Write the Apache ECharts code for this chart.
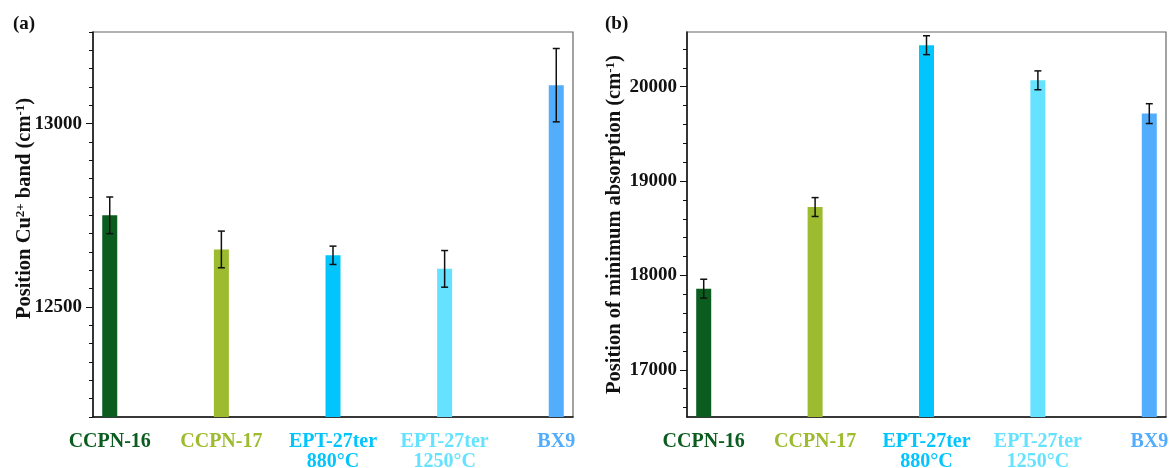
<!DOCTYPE html>
<html>
<head>
<meta charset="utf-8">
<script src="https://cdn.jsdelivr.net/npm/echarts@6/dist/echarts.min.js"></script>
<style>
  html, body { margin: 0; padding: 0; background: #fff; }
  #chart { width: 1169px; height: 468px; }
</style>
</head>
<body>
<div id="chart"></div>
<script>
// Samples shown on both panels
const categories = ['CCPN-16', 'CCPN-17', 'EPT-27ter\n880°C', 'EPT-27ter\n1250°C', 'BX9'];

// (a) position of the Cu2+ band, cm-1, with standard deviations
const cuBand = [12750, 12657, 12641, 12604, 13105];
const cuBandErr = [50, 50, 25, 50, 100];

// (b) position of the minimum of absorption, cm-1, with standard deviations
const minAbs = [17860, 18725, 20440, 20068, 19715];
const minAbsErr = [100, 100, 100, 100, 105];

// Tick values
const labelTicksA = [12500, 13000];
const minorTicksB = [16600, 16800, 17000, 17200, 17400, 17600, 17800, 18000, 18200, 18400,
  18600, 18800, 19000, 19200, 19400, 19600, 19800, 20000, 20200, 20400];
const labelTicksB = [17000, 18000, 19000, 20000];

// One colour per sample (bars and category labels)
const sampleColors = ['#0a5d1f', '#9cbb2e', '#03c5fd', '#64e2ff', '#53adfd'];

const FONT = '"Liberation Serif", "DejaVu Serif", serif';
const INK = '#111';

const chart = echarts.init(document.getElementById('chart'), null, { renderer: 'canvas' });

const catRich = {};
sampleColors.forEach((c, i) => {
  catRich['c' + i] = { color: c, fontFamily: FONT, fontWeight: 'bold', fontSize: 20, lineHeight: 20, align: 'center' };
});

function xAxisFor(gridIndex) {
  return {
    type: 'value', gridIndex, min: 0.85, max: 5.15,
    axisLine: { show: true, onZero: false, lineStyle: { color: INK, width: 1.5 } },
    axisTick: { show: false },
    splitLine: { show: false },
    axisLabel: {
      customValues: [1, 2, 3, 4, 5],
      margin: 15,
      formatter: v => '{c' + (v - 1) + '|' + categories[v - 1] + '}',
      rich: catRich
    }
  };
}

const nameRich = {
  t: { fontFamily: FONT, fontWeight: 'bold', fontSize: 20.5, color: INK, lineHeight: 22 },
  s: { fontFamily: FONT, fontWeight: 'bold', fontSize: 13, color: INK, lineHeight: 8, verticalAlign: 'top' }
};

function errorBars(gridIdx, values, errs) {
  return {
    type: 'custom',
    xAxisIndex: gridIdx,
    yAxisIndex: gridIdx * 2,
    z: 10,
    data: values.map((v, i) => [i + 1, v - errs[i], v + errs[i]]),
    encode: { x: 0, y: [1, 2] },
    renderItem(params, api) {
      const x = api.value(0);
      const lo = api.coord([x, api.value(1)]);
      const hi = api.coord([x, api.value(2)]);
      const half = 3.5;
      const style = { stroke: INK, lineWidth: 1.5 };
      return {
        type: 'group',
        children: [
          { type: 'line', shape: { x1: lo[0], y1: lo[1], x2: hi[0], y2: hi[1] }, style },
          { type: 'line', shape: { x1: lo[0] - half, y1: lo[1], x2: lo[0] + half, y2: lo[1] }, style },
          { type: 'line', shape: { x1: hi[0] - half, y1: hi[1], x2: hi[0] + half, y2: hi[1] }, style }
        ]
      };
    }
  };
}

function bars(gridIdx, values) {
  return {
    type: 'bar',
    xAxisIndex: gridIdx,
    yAxisIndex: gridIdx * 2,
    barWidth: 15,
    clip: true,
    data: values.map((v, i) => ({ value: [i + 1, v], itemStyle: { color: sampleColors[i] } }))
  };
}

const tickLabelStyle = {
  color: INK, fontFamily: FONT, fontWeight: 'bold', fontSize: 19,
  formatter: v => String(v)
};
const panelTitleStyle = { color: INK, fontFamily: FONT, fontWeight: 'bold', fontSize: 19 };

const gridBase = {
  top: 32, bottom: 51, show: true, borderColor: '#666', borderWidth: 1.2,
  backgroundColor: 'transparent', containLabel: false, outerBoundsMode: 'none'
};

const option = {
  backgroundColor: '#fff',
  animation: false,
  title: [
    { text: '(a)', left: 8, top: 10, textStyle: panelTitleStyle },
    { text: '(b)', left: 600, top: 10, textStyle: panelTitleStyle }
  ],
  grid: [
    { ...gridBase, left: 93, right: 596 },
    { ...gridBase, left: 687, right: 3 }
  ],
  xAxis: [xAxisFor(0), xAxisFor(1)],
  yAxis: [
    // (a) minor ticks every 50 and the axis title
    {
      type: 'value', gridIndex: 0, position: 'left', min: 12200, max: 13250, interval: 50,
      axisLine: { show: true, lineStyle: { color: INK, width: 1.5 } },
      axisTick: { show: true, length: 4, lineStyle: { color: INK, width: 1 } },
      axisLabel: { show: false },
      splitLine: { show: false },
      name: '{t|Position Cu}{s|2+}{t| band (cm}{s|-1}{t|)}',
      nameLocation: 'middle', nameRotate: 90, nameGap: 57,
      nameTextStyle: { rich: nameRich, padding: [0, 0, 0, 32] }
    },
    // (a) labelled ticks
    {
      type: 'value', gridIndex: 0, position: 'left', offset: 0, min: 12200, max: 13250,
      axisLine: { show: false },
      axisTick: { show: true, customValues: labelTicksA, length: 7, lineStyle: { color: INK, width: 1 } },
      axisLabel: { customValues: labelTicksA, margin: 11, ...tickLabelStyle },
      splitLine: { show: false }
    },
    // (b) minor ticks every 200 and the axis title
    {
      type: 'value', gridIndex: 1, position: 'left', min: 16500, max: 20580,
      axisLine: { show: true, lineStyle: { color: INK, width: 1.5 } },
      axisTick: { show: true, customValues: minorTicksB, length: 4, lineStyle: { color: INK, width: 1 } },
      axisLabel: { show: false, customValues: labelTicksB },
      splitLine: { show: false },
      name: '{t|Position of minimum absorption (cm}{s|-1}{t|)}',
      nameLocation: 'middle', nameRotate: 90, nameGap: 61,
      nameTextStyle: { rich: nameRich }
    },
    // (b) labelled ticks
    {
      type: 'value', gridIndex: 1, position: 'left', offset: 0, min: 16500, max: 20580,
      axisLine: { show: false },
      axisTick: { show: true, customValues: labelTicksB, length: 7, lineStyle: { color: INK, width: 1 } },
      axisLabel: { customValues: labelTicksB, margin: 10, ...tickLabelStyle },
      splitLine: { show: false }
    }
  ],
  series: [
    bars(0, cuBand),
    errorBars(0, cuBand, cuBandErr),
    bars(1, minAbs),
    errorBars(1, minAbs, minAbsErr)
  ]
};

chart.setOption(option);
</script>
</body>
</html>
